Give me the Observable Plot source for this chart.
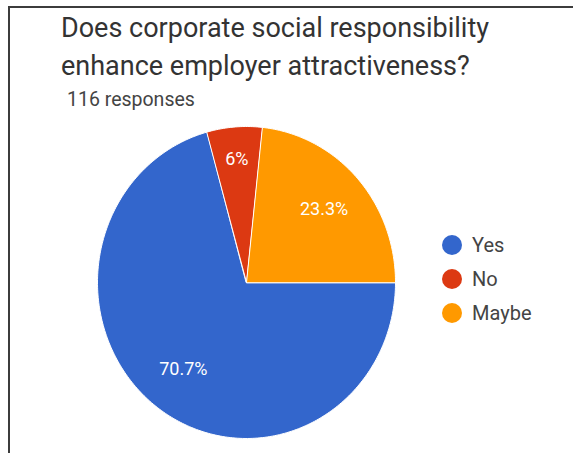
<!DOCTYPE html>
<html>
<head>
<meta charset="utf-8">
<script src="https://cdn.jsdelivr.net/npm/d3@7"></script>
<script src="https://cdn.jsdelivr.net/npm/@observablehq/plot@0.6"></script>
<style>
  html, body { margin: 0; padding: 0; background: #fff; }
  #wrap { position: relative; width: 573px; height: 453px; overflow: hidden; font-family: Roboto, "Noto Sans", sans-serif; }
  #frame { position: absolute; left: 8px; top: 6px; width: 600px; height: 500px; border-left: 2.5px solid #3c3c3c; border-top: 2.5px solid #3c3c3c; }
  #title { position: absolute; left: 61px; top: 9px; font-size: 27px; line-height: 38px; color: #333; white-space: nowrap; }
  #sub { position: absolute; left: 67px; top: 90px; font-size: 19.5px; line-height: 20px; color: #444; white-space: nowrap; }
  #chart { position: absolute; left: 0; top: 0; }
  #legend { position: absolute; left: 442px; top: 228px; font-size: 20px; color: #444; }
  .item { display: flex; align-items: center; height: 34px; }
  .sw { width: 20px; height: 20px; border-radius: 50%; margin-right: 10px; }
</style>
</head>
<body>
<div id="wrap">
  <div id="chart"></div>
  <div id="frame"></div>
  <div id="title">Does corporate social responsibility<br>enhance employer attractiveness?</div>
  <div id="sub">116 responses</div>
  <div id="legend"></div>
</div>
<script>
const categories = ["Yes", "No", "Maybe"];
const values = [70.7, 6, 23.3];
const labels = ["70.7%", "6%", "23.3%"];
const colors = ["#3366cc", "#dc3912", "#ff9900"];

// slices start at 3 o'clock and run clockwise
const pie = d3.pie().sort(null).value(d => d.value).startAngle(0).endAngle(2 * Math.PI);
const arcs = pie(categories.map((c, i) => ({category: c, value: values[i], label: labels[i]})));

const pts = [];
const labs = [];
for (const a of arcs) {
  const n = Math.max(4, Math.ceil((a.endAngle - a.startAngle) * 60));
  pts.push({category: a.data.category, x: 0, y: 0});
  for (let k = 0; k <= n; k++) {
    const t = a.startAngle + (a.endAngle - a.startAngle) * k / n;
    pts.push({category: a.data.category, x: Math.cos(t), y: -Math.sin(t)});
  }
  const m = (a.startAngle + a.endAngle) / 2;
  const r = a.data.value < 10 ? 0.79 : 0.7;
  labs.push({label: a.data.label, x: r * Math.cos(m), y: -r * Math.sin(m)});
}

const cx = 246, cy = 282, rx = 149, ry = 156;
const chart = Plot.plot({
  width: 573,
  height: 453,
  margin: 0,
  x: {domain: [-1, 1], range: [cx - rx, cx + rx], axis: null},
  y: {domain: [-1, 1], range: [cy + ry, cy - ry], axis: null},
  color: {domain: categories, range: colors},
  marks: [
    Plot.line(pts, {x: "x", y: "y", z: "category", fill: "category", stroke: "white", strokeWidth: 1, curve: "linear-closed"}),
    Plot.text(labs, {x: "x", y: "y", text: "label", fill: "white", fontSize: 18, fontFamily: "Roboto, sans-serif"})
  ]
});
document.getElementById("chart").appendChild(chart);

const leg = document.getElementById("legend");
categories.forEach((c, i) => {
  const it = document.createElement("div");
  it.className = "item";
  it.innerHTML = `<span class="sw" style="background:${colors[i]}"></span><span>${c}</span>`;
  leg.appendChild(it);
});
</script>
</body>
</html>
